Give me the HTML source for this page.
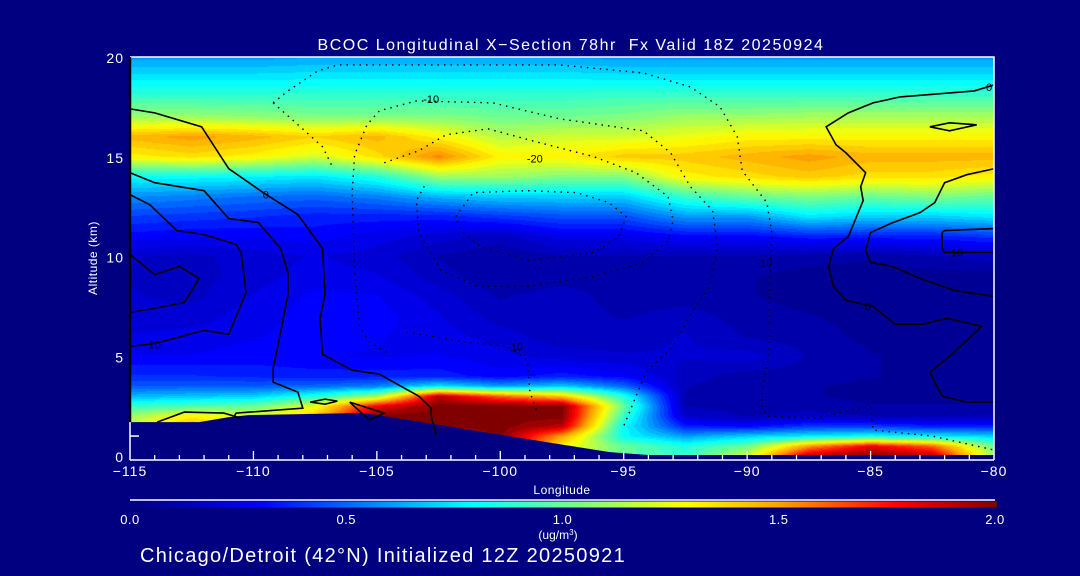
<!DOCTYPE html>
<html><head><meta charset="utf-8">
<style>
html,body{margin:0;padding:0;background:#000080;}
#wrap{position:relative;width:1080px;height:576px;overflow:hidden;background:#000080;font-family:"Liberation Sans",sans-serif;color:#fff;}
canvas{position:absolute;left:130px;top:57px;}
svg{position:absolute;left:0;top:0;}
text{white-space:pre;}
</style></head>
<body>
<div id="wrap">
<canvas id="cv" width="864" height="399"></canvas>
<svg id="sv" width="1080" height="576"></svg>
</div>
<script>
const lonCols=[-115,-112.5,-110,-107.5,-105,-102.5,-100,-97.5,-95,-92.5,-90,-87.5,-85,-82.5,-80];
const altRows=[20,19,18,17,16,15,14,13,12,11,10,9,8,7,6,5,4,3.5,3,2.5,2,1.5,1,0.5,0];
const conc=[
[.6,.6,.6,.62,.62,.62,.62,.62,.6,.6,.6,.6,.6,.6,.6],
[.75,.75,.75,.76,.76,.76,.76,.76,.75,.75,.75,.75,.75,.75,.75],
[.9,.9,.9,.9,.9,.9,.9,.9,.92,.92,.92,.92,.92,.92,.92],
[1.1,1.1,1.08,1.05,1.05,1.05,1.02,1.02,1.05,1.1,1.1,1.12,1.12,1.12,1.12],
[1.45,1.5,1.45,1.38,1.45,1.3,1.15,1.2,1.2,1.25,1.3,1.3,1.3,1.3,1.3],
[1.3,1.35,1.3,1.2,1.35,1.55,1.3,1.3,1.4,1.4,1.45,1.5,1.45,1.45,1.45],
[.8,.8,.78,.75,.85,1.1,1.1,1.05,1.05,1.3,1.35,1.4,1.35,1.35,1.3],
[.58,.55,.52,.5,.55,.65,.7,.7,.7,.9,1.0,1.05,1.0,1.05,1.0],
[.42,.4,.38,.35,.35,.35,.4,.45,.45,.6,.6,.75,.7,.7,.75],
[.3,.28,.28,.3,.25,.2,.15,.25,.25,.3,.3,.35,.35,.35,.4],
[.18,.16,.2,.23,.2,.12,.08,.12,.12,.12,.12,.1,.08,.12,.15],
[.17,.15,.2,.25,.23,.15,.08,.1,.1,.08,.08,.05,.05,.05,.05],
[.18,.16,.23,.29,.28,.2,.12,.15,.1,.1,.08,.05,.05,.05,.05],
[.2,.2,.25,.3,.3,.23,.15,.15,.12,.15,.1,.08,.05,.05,.05],
[.23,.24,.27,.3,.28,.25,.2,.14,.15,.18,.12,.1,.06,.05,.05],
[.28,.28,.3,.28,.27,.28,.24,.2,.18,.18,.2,.12,.08,.05,.05],
[.38,.38,.36,.35,.35,.35,.3,.35,.3,.15,.1,.1,.08,.05,.05],
[.48,.48,.48,.5,.55,.75,.6,.7,.5,.13,.08,.08,.06,.05,.05],
[.65,.68,.7,.85,1.1,1.9,1.6,1.4,.85,.12,.08,.08,.06,.06,.06],
[.9,.95,1.0,1.25,1.8,2,2,2,1.0,.12,.1,.1,.08,.08,.08],
[1.1,1.3,1.2,1.4,2,2,2,2,.9,.18,.12,.15,.12,.12,.12],
[1.2,1.45,1.3,1.4,2,2,2,1.9,.8,.35,.3,.4,.4,.35,.35],
[1.2,1.4,1.3,1.4,2,1.8,2,1.5,.8,.6,.7,.75,.8,.75,.7],
[1.2,1.4,1.3,1.4,2,1.8,2,1.3,1.0,.85,1.0,1.5,1.8,1.6,1.0],
[1.2,1.4,1.3,1.4,2,1.8,2,1.3,1.0,.9,1.2,1.9,2.0,1.9,1.1]
];
const terrainLon=[-115,-112.2,-111,-110.2,-105.9,-105.5,-95.6,-94,-80];
const terrainAlt=[1.7,1.7,1.95,2.05,2.15,2.15,0.2,0.05,0.05];
const xTicks=[-115,-110,-105,-100,-95,-90,-85,-80];
const yTicks=[0,5,10,15,20];
const cbTicks=[0.0,0.5,1.0,1.5,2.0];
const solidContours=[
[[-115,17.4],[-114,17.2],[-112.1,16.5],[-111,14.4],[-109.6,13.2],[-108.2,12.1],[-107.2,10.4],[-107.1,8.1],[-107.3,6.9],[-107.2,5.1],[-106,4.3],[-104.9,4.1],[-103.3,3.0],[-102.8,2.4],[-102.8,2.0],[-102.6,1.05]],
[[-115,14.2],[-114,13.7],[-112,13.3],[-111,11.9],[-109.8,11.7],[-108.9,10.4],[-108.6,9.2],[-108.6,8.1],[-108.9,6.2],[-109.2,4.4],[-109.2,3.7],[-108.2,3.2],[-108,2.4],[-110.7,2.15],[-110.8,1.95]],
[[-115,13.1],[-114.2,12.6],[-113.1,11.3],[-112,11.1],[-110.7,10.6],[-110.5,10.2],[-110.3,8.2],[-111,6.1],[-112,6.3],[-113.5,5.8],[-114.2,5.6],[-115,5.5]],
[[-115,10.1],[-114,9.1],[-113,9.5],[-112.2,8.9],[-112.8,7.7],[-114,7.4],[-115,7.2]],
[[-113.9,1.7],[-112.8,2.2],[-111.2,2.15],[-110.5,1.9]],
[[-80,18.6],[-80.8,18.3],[-83.8,18.0],[-84.9,17.7],[-85.9,17.2],[-86.8,16.5],[-86.4,15.6],[-86,15.2],[-85.2,14.2],[-85.4,13.5],[-85.3,12.8],[-85.5,12.2],[-85.9,11.0],[-86.5,10.4],[-86.7,9.5],[-86.5,8.5],[-86,7.8],[-84.9,7.5],[-84.5,7.1],[-84,6.6],[-82.9,6.6],[-81.9,6.9],[-80.5,6.5],[-81.1,5.8],[-81.7,5.1],[-82.6,4.2],[-82.1,3.0],[-81.1,2.7],[-80,2.7]],
[[-80,14.4],[-81.1,14.1],[-82,13.7],[-82.4,12.7],[-83,12.2],[-84.1,11.7],[-85,11.2],[-85.2,10.3],[-85,9.7],[-84.1,9.5],[-83,8.9],[-81.6,8.3],[-80,8.0]],
[[-80,11.4],[-82,11.3],[-82.1,11.2],[-82.1,10.4],[-82,10.2],[-80.8,10.2],[-80,10.2]],
[[-82.6,16.5],[-81.8,16.7],[-80.7,16.6],[-81.8,16.3],[-82.6,16.5]],
[[-107.7,2.7],[-107.1,2.85],[-106.6,2.75],[-107.1,2.6],[-107.7,2.7]],
[[-106.1,2.7],[-104.7,2.15],[-105.3,1.8],[-106.1,2.7]]
];
const dottedContours=[
[[-109.2,17.7],[-108.6,18.3],[-107.4,19.3],[-106.6,19.6],[-102.2,19.6],[-97.6,19.6],[-94.2,19.2],[-92.3,18.5],[-91.1,17.5],[-90.4,16.0],[-90.2,14.3],[-89.2,12.7],[-89.0,11.2],[-89.1,8.2],[-89.1,5.2],[-89.4,3.2],[-89.4,2.5],[-89.2,2.0],[-87.2,1.9],[-85.0,2.5],[-84.9,1.3],[-82.5,1.0],[-80,0.3]],
[[-109.2,17.7],[-108.1,16.5],[-107.2,15.5],[-106.8,14.5]],
[[-104.6,5.2],[-105.3,5.7],[-105.7,6.5],[-105.9,9.2],[-106,13.2],[-105.9,15.1],[-105.4,16.6],[-104.9,17.3],[-103.4,17.8],[-100.3,17.7],[-97.6,16.9],[-94.2,16.3],[-93.1,15.2],[-92.3,13.5],[-91.4,12.3],[-91.2,10.5],[-91.5,8.5],[-92.2,7.3],[-93,5.5],[-94.1,4.2],[-95,1.5]],
[[-104.7,14.7],[-103.3,15.3],[-102.2,16.1],[-100.5,16.4],[-98.7,15.8],[-96.2,15.0],[-94.5,14.2],[-93.2,13.0],[-93,11.8],[-93.2,10.8],[-94.2,9.7],[-96.2,9.0],[-98.9,8.5],[-100.9,8.5],[-102.4,9.3],[-103.3,11.2],[-103.4,12.8],[-103,13.7]],
[[-101.8,12.0],[-101.1,13.2],[-98.9,13.3],[-96.9,13.2],[-95.6,12.7],[-94.9,12.0],[-95.2,11.0],[-96.2,10.2],[-98.9,9.8],[-100.8,10.5],[-101.6,11.3],[-101.8,12.0]],
[[-103.8,6.2],[-101.3,5.7],[-99.7,5.5],[-98.9,4.8],[-98.8,3.2],[-98.5,2.2]]
];
const contourLabels=[["0",-109.5,13.1],["10",-114,5.6],["-10",-102.8,17.9],["-20",-98.6,14.9],["-10",-99.4,5.5],["-10",-89.3,9.7],["0",-85.1,7.5],["0",-80.2,18.5],["10",-81.5,10.2]];

const X0=130,X1=994,Y0=57,YB=456;
function xs(lon){return X0+(lon+115)/35*(X1-X0);}
function ys(alt){return YB-alt/20*(YB-Y0);}
const stops=[[0,0,0,128],[0.3,0,0,255],[0.55,0,128,255],[0.79,0,255,255],[1.05,128,255,128],[1.28,255,255,0],[1.5,255,160,0],[1.77,255,0,0],[2.0,128,0,0]];
function cmap(v){v=Math.max(0,Math.min(2,v));v=Math.round(v/0.05)*0.05;
 for(let i=1;i<stops.length;i++){if(v<=stops[i][0]){const a=stops[i-1],b=stops[i],t=(v-a[0])/(b[0]-a[0]);
 return [a[1]+(b[1]-a[1])*t,a[2]+(b[2]-a[2])*t,a[3]+(b[3]-a[3])*t];}}
 return [128,0,0];}
function sample(lon,alt){
 let ci=Math.min(lonCols.length-2,Math.max(0,Math.floor((lon-lonCols[0])/2.5)));
 let tx=(lon-lonCols[ci])/(lonCols[ci+1]-lonCols[ci]);tx=Math.max(0,Math.min(1,tx));
 let ri=0;while(ri<altRows.length-2&&alt<altRows[ri+1])ri++;
 let ty=(altRows[ri]-alt)/(altRows[ri]-altRows[ri+1]);ty=Math.max(0,Math.min(1,ty));
 const a=conc[ri][ci],b=conc[ri][ci+1],c=conc[ri+1][ci],d=conc[ri+1][ci+1];
 return (a*(1-tx)+b*tx)*(1-ty)+(c*(1-tx)+d*tx)*ty;}
const cv=document.getElementById('cv'),ctx=cv.getContext('2d');
const img=ctx.createImageData(864,399);
for(let y=0;y<399;y++){const alt=(YB-(Y0+y+0.5))/(YB-Y0)*20;
 for(let x=0;x<864;x++){const lon=-115+(x+0.5)/864*35;const c=cmap(sample(lon,alt));const k=(y*864+x)*4;
 img.data[k]=c[0];img.data[k+1]=c[1];img.data[k+2]=c[2];img.data[k+3]=255;}}
ctx.putImageData(img,0,0);

const NS='http://www.w3.org/2000/svg';const sv=document.getElementById('sv');
function el(tag,attrs,parent){const e=document.createElementNS(NS,tag);for(const k in attrs)e.setAttribute(k,attrs[k]);(parent||sv).appendChild(e);return e;}
function txt(s,x,y,size,anchor,name,ls){const t=el('text',{x:x,y:y,'font-size':size,fill:'#fff','text-anchor':anchor||'middle','font-family':'Liberation Sans, sans-serif','letter-spacing':ls||0});t.textContent=s;
 
 
 return t;}

let tp=terrainLon.map((l,i)=>xs(l)+','+ys(terrainAlt[i])).join(' ');
tp+=' '+xs(-80)+',460 '+xs(-115)+',460';
const terr=el('polygon',{points:tp,fill:'#000080'});



solidContours.forEach((c,i)=>{const p=el('polyline',{points:c.map(q=>xs(q[0])+','+ys(q[1])).join(' '),fill:'none',stroke:'#000','stroke-width':1.6});
 
 });
dottedContours.forEach((c,i)=>{const p=el('polyline',{points:c.map(q=>xs(q[0])+','+ys(q[1])).join(' '),fill:'none',stroke:'#000','stroke-width':1.4,'stroke-dasharray':'1.5 5'});
 
 });
contourLabels.forEach((l,i)=>{txt(l[0],xs(l[1]),ys(l[2])+4,11,'middle','contour-label-'+i).setAttribute('fill','#000');});

const fr=el('path',{d:`M${X0},${Y0}H${X1}V460M${X0},460H${X1}`,stroke:'#fff','stroke-width':1.5,fill:'none'});


const la=el('line',{x1:X0,y1:Y0,x2:X0,y2:ys(terrainAlt[0]),stroke:'#000','stroke-width':2.5});


const lb=el('line',{x1:X0,y1:ys(terrainAlt[0]),x2:X0,y2:460,stroke:'#fff','stroke-width':1.5});


const yt=el('line',{x1:X0,y1:ys(1),x2:X0+9,y2:ys(1),stroke:'#fff','stroke-width':1.5});


for(let l=-114;l<-80;l++){const major=(l%5===0);const t=el('line',{x1:xs(l),y1:460,x2:xs(l),y2:major?451:455,stroke:'#fff','stroke-width':1.3});
 
 }
xTicks.forEach(v=>txt(String(v).replace('-','\u2212'),xs(v),476,14,'middle','x-tick-label',1));
yTicks.forEach(v=>txt(String(v),124,ys(v)+6,14,'end','y-tick-label',1));
txt('Longitude',562,494,12,'middle','x-axis-title',0.5);
const yat=txt('Altitude (km)',97,258,12,'middle','y-axis-title',0.5);yat.setAttribute('transform','rotate(-90 97 258)');
txt('BCOC Longitudinal X\u2212Section 78hr  Fx Valid 18Z 20250924',571,50,16,'middle','chart-title',1.5);

const defs=el('defs',{});const lg=el('linearGradient',{id:'cbg',x1:0,y1:0,x2:1,y2:0},defs);
stops.forEach(s=>el('stop',{offset:s[0]/2,'stop-color':`rgb(${s[1]},${s[2]},${s[3]})`},lg));
const cbl=el('line',{x1:130,y1:500,x2:995,y2:500,stroke:'#fff','stroke-width':1.5});


const cb=el('rect',{x:130,y:501.5,width:867,height:6,fill:'url(#cbg)'});


cbTicks.forEach(v=>txt(v.toFixed(1),130+v/2*865,524,13,'middle','colorbar-tick-label',0.5));
const un=txt('(ug/m',558,539,12,'middle','colorbar-units');const sup=el('tspan',{'font-size':8,dy:-4},un);sup.textContent='3';const cl=el('tspan',{dy:4},un);cl.textContent=')';
txt('Chicago/Detroit (42\u00B0N) Initialized 12Z 20250921',140,562,20,'start','footer-text',1.3);
</script>
</body></html>
